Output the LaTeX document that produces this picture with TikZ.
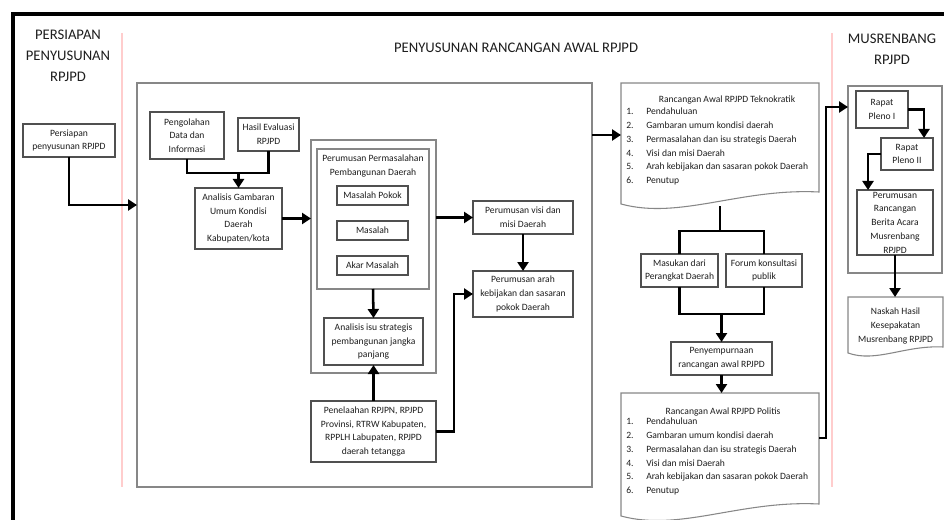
\documentclass[tikz,border=0pt]{standalone}
\usepackage{fontspec}
\setmainfont{Carlito}
\usetikzlibrary{arrows.meta}
\definecolor{pinkline}{RGB}{255,205,205}
\definecolor{boxgray}{RGB}{80,80,80}
\definecolor{contgray}{RGB}{135,135,135}
\definecolor{txt}{RGB}{30,30,30}
\newcommand\boxfont{\fontsize{7.2}{10.3}\selectfont}
\newcommand\headfont{\fontsize{11}{15.75}\selectfont}
\newcommand\li[1]{\makebox[15pt][l]{#1}}
\newcommand{\bx}[7][]{%
  \pgfmathsetmacro\cx{(#3+#5)/2}\pgfmathsetmacro\cy{(#4+#6)/2}%
  \pgfmathsetmacro\ww{(#5-#3)*0.75}\pgfmathsetmacro\hh{(#6-#4)*0.75}%
  \node[#1,minimum width=\ww pt,minimum height=\hh pt] (#2) at (\cx,\cy) {#7};}
\tikzset{
  box/.style={draw=boxgray, line width=0.8pt, fill=white, inner sep=0pt, outer sep=0pt, align=center, font=\boxfont, text=txt},
  cont/.style={draw=contgray, line width=1pt, fill=white, inner sep=0pt, outer sep=0pt},
  docn/.style={inner sep=0pt, outer sep=0pt, align=center, font=\boxfont, text=txt},
  docline/.style={draw=contgray, line width=0.8pt, fill=white},
  heading/.style={font=\headfont, align=center, text=txt, inner sep=0pt},
  plain/.style={inner sep=0pt, font=\boxfont, text=txt},
  conn/.style={line width=1.9pt, black},
  arr/.style={conn, -{Triangle[length=6.75pt,width=8.25pt]}},
}
\begin{document}
\begin{tikzpicture}[x=0.75pt,y=-0.75pt]
\useasboundingbox (0,0) rectangle (944,520);
% frame
\draw[line width=3pt, black] (13,522) -- (13,14.5) -- (946,14.5);
% pink separators
\draw[pinkline, line width=0.9pt] (122,33) -- (122,487);
\draw[pinkline, line width=0.9pt] (832,33) -- (832,487);
% headings
\node[heading] (h1) at (68,56) {PERSIAPAN\\PENYUSUNAN\\RPJPD};
\node[heading] (h2) at (516,48) {PENYUSUNAN RANCANGAN AWAL RPJPD};
\node[heading] (h3) at (892,49) {MUSRENBANG\\RPJPD};
% containers
\bx[cont]{main}{137}{83}{592}{487}{}
\bx[cont]{permo}{311}{140}{436}{373}{}
\bx[cont]{permi}{317}{149}{429}{289}{}
\bx[cont]{mus}{848}{86}{942}{273}{}
% left column
\bx[box]{prep}{23}{124}{115}{157}{Persiapan\\penyusunan RPJPD}
% main column
\bx[box]{peng}{150}{112}{224}{159}{Pengolahan\\Data dan\\Informasi}
\bx[box]{hasil}{238}{118}{299}{151}{Hasil Evaluasi\\RPJPD}
\bx[box]{anal}{195}{188}{282}{249}{Analisis Gambaran\\Umum Kondisi\\Daerah\\Kabupaten/kota}
\node[plain, align=center] (permt) at (373,166) {Perumusan Permasalahan\\Pembangunan Daerah};
\bx[box]{mp}{337}{186}{408}{205}{Masalah Pokok}
\bx[box]{ms}{337}{221}{408}{240}{Masalah}
\bx[box]{ak}{337}{256}{408}{275}{Akar Masalah}
\bx[box]{isu}{324}{318}{423}{365}{Analisis isu strategis\\pembangunan jangka\\panjang}
\bx[box]{pen}{311}{401}{436}{462}{Penelaahan RPJPN, RPJPD\\Provinsi, RTRW Kabupaten,\\RPPLH Labupaten, RPJPD\\daerah tetangga}
\bx[box]{visi}{473}{201}{573}{234}{Perumusan visi dan\\misi Daerah}
\bx[box]{arah}{473}{271}{573}{317}{Perumusan arah\\kebijakan dan sasaran\\pokok Daerah}
% documents
\path[docline] (621,83) -- (819,83) -- (819,192) .. controls (740,188) and (680,220) .. (621,204) -- cycle;
\bx[docn]{tek}{621}{83}{819}{205}{}
\node[plain] (tekt) at (727,100) {Rancangan Awal RPJPD Teknokratik};
\node[plain, align=left, anchor=north west] (tekl) at (626,108) {\li{1.}Pendahuluan\\\li{2.}Gambaran umum kondisi daerah\\\li{3.}Permasalahan dan isu strategis Daerah\\\li{4.}Visi dan misi Daerah\\\li{5.}Arah kebijakan dan sasaran pokok Daerah\\\li{6.}Penutup};
\bx[box]{mas}{641}{254}{718}{287}{Masukan dari\\Perangkat Daerah}
\bx[box]{for}{726}{254}{802}{287}{Forum konsultasi\\publik}
\bx[box]{peny}{671}{342}{772}{375}{Penyempurnaan\\rancangan awal RPJPD}
\path[docline] (621,393) -- (819,393) -- (819,504) .. controls (740,500) and (680,532) .. (621,516) -- cycle;
\bx[docn]{pol}{621}{393}{819}{517}{}
\node[plain] (polt) at (723,412) {Rancangan Awal RPJPD Politis};
\node[plain, align=left, anchor=north west] (poll) at (626,418) {\li{1.}Pendahuluan\\\li{2.}Gambaran umum kondisi daerah\\\li{3.}Permasalahan dan isu strategis Daerah\\\li{4.}Visi dan misi Daerah\\\li{5.}Arah kebijakan dan sasaran pokok Daerah\\\li{6.}Penutup};
% musrenbang column
\bx[box]{p1}{856}{91}{908}{128}{Rapat\\Pleno I}
\bx[box]{p2}{881}{138}{933}{170}{Rapat\\Pleno II}
\bx[box]{pr}{857}{190}{933}{255}{Perumusan\\Rancangan\\Berita Acara\\Musrenbang\\RPJPD}
\path[docline] (848,297) -- (943,297) -- (943,347) .. controls (905,345) and (876,363) .. (848,353) -- cycle;
\bx[docn]{nas}{848}{297}{943}{355}{Naskah Hasil\\Kesepakatan\\Musrenbang RPJPD}
% helper coordinates
\coordinate (y205) at (0,205);
\coordinate (j1) at (238.5,173);
\coordinate (y135) at (0,135);
\coordinate (j2) at (720,231);
\coordinate (j3) at (721.5,314);
\coordinate (y438) at (0,438);
\coordinate (k1) at (826,107);
\coordinate (x924) at (924,0);
\coordinate (x868) at (868,0);
% connectors
\draw[arr] (prep.south) |- (main.west |- y205);
\draw[conn] (peng.south) |- (j1) -| (hasil.south);
\draw[arr] (j1) -- (anal.north);
\draw[arr] (anal.east) -- (anal.east -| permo.west);
\draw[arr] (permi.south) -- (isu.north);
\draw[arr] (pen.north) -- (isu.south);
\draw[arr] (visi.west -| permo.east) -- (visi.west);
\draw[arr] (visi.south) -- (arah.north);
\draw[arr] (pen.east) -- ++(18,0) |- (arah.west);
\draw[arr] (main.east |- y135) -- (tek.west |- y135);
\draw[conn] (720,206) -- (j2);
\draw[conn] (mas.north) |- (j2) -| (for.north);
\draw[conn] (mas.south) |- (j3) -| (for.south);
\draw[arr] (j3) -- (peny.north);
\draw[arr] (peny.south) -- (peny.south |- pol.north);
\draw[arr] (pol.east |- y438) -| (k1) -- (mus.west |- k1);
\draw[arr] (p1.east) -| (p2.north -| x924);
\draw[arr] (p2.west) -| (pr.north -| x868);
\draw[arr] (pr.south) -- (pr.south |- nas.north);
\end{tikzpicture}
\end{document}
